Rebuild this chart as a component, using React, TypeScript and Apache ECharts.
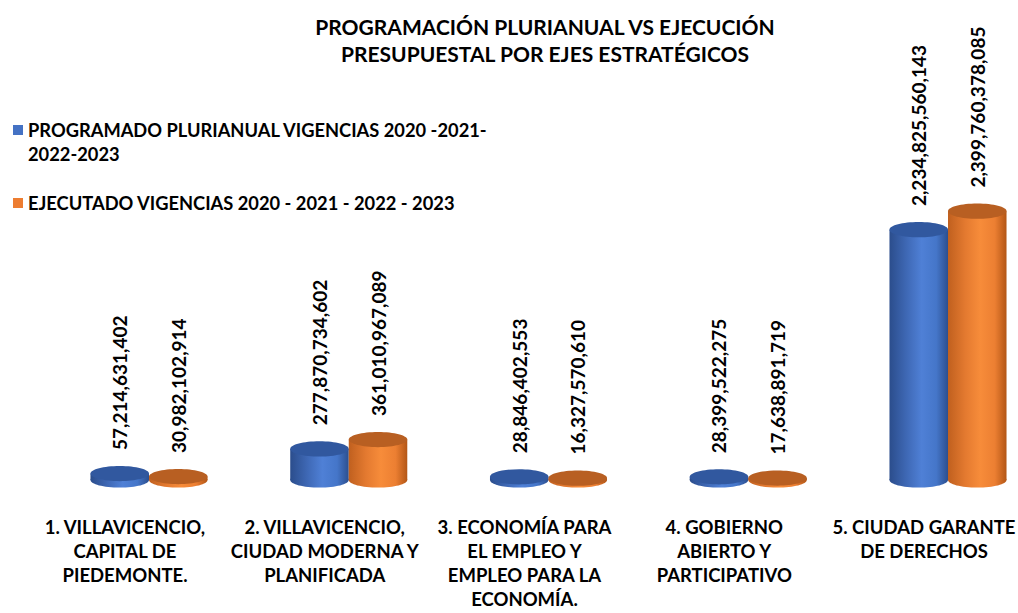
import React, { useEffect, useRef } from "react";
import * as echarts from "echarts";

const categories = [
  "1. VILLAVICENCIO,\nCAPITAL DE\nPIEDEMONTE.",
  "2. VILLAVICENCIO,\nCIUDAD MODERNA Y\nPLANIFICADA",
  "3. ECONOMÍA PARA\nEL EMPLEO Y\nEMPLEO PARA LA\nECONOMÍA.",
  "4. GOBIERNO\nABIERTO Y\nPARTICIPATIVO",
  "5. CIUDAD GARANTE\nDE DERECHOS",
];
const programado = [57214631402, 277870734602, 28846402553, 28399522275, 2234825560143];
const ejecutado = [30982102914, 361010967089, 16327570610, 17638891719, 2399760378085];
const seriesNames = [
  "PROGRAMADO PLURIANUAL VIGENCIAS 2020 -2021-2022-2023",
  "EJECUTADO VIGENCIAS 2020 - 2021 - 2022 - 2023",
];
const titleText = "PROGRAMACIÓN PLURIANUAL VS EJECUCIÓN\nPRESUPUESTAL POR EJES ESTRATÉGICOS";

const FONT = "Lato";

const palettes = [
  { base: "#4472c4", top: "#31589f", stops: ["#2b4d8c", "#3f69b6", "#4f80d6", "#4576c9", "#2c4f8f"] },
  { base: "#ed7d31", top: "#b85f22", stops: ["#c0601f", "#e47a30", "#f78c3a", "#ec7f32", "#b35616"] },
];

function makeRender(si: number) {
  return (params: any, api: any) => {
    const idx = api.value(0);
    const val = api.value(1);
    const top = api.coord([idx, val]);
    const base = api.coord([idx, 0]);
    const band = api.size([1, 0])[0];
    const w = band * 0.293;
    const cx = top[0] + (si === 0 ? -w / 2 : w / 2);
    const ry = w * 0.13;
    const p = palettes[si];
    const grad = new echarts.graphic.LinearGradient(0, 0, 1, 0, [
      { offset: 0, color: p.stops[0] },
      { offset: 0.3, color: p.stops[1] },
      { offset: 0.55, color: p.stops[2] },
      { offset: 0.8, color: p.stops[3] },
      { offset: 1, color: p.stops[4] },
    ]);
    const label = Number(val).toLocaleString("en-US");
    return {
      type: "group",
      children: [
        { type: "ellipse", shape: { cx, cy: base[1], rx: w / 2, ry }, style: { fill: grad } },
        { type: "rect", shape: { x: cx - w / 2, y: top[1], width: w, height: base[1] - top[1] }, style: { fill: grad } },
        { type: "ellipse", shape: { cx, cy: top[1], rx: w / 2, ry }, style: { fill: p.top } },
        {
          type: "text",
          x: cx,
          y: top[1] - ry - 16,
          rotation: Math.PI / 2,
          style: {
            text: label,
            align: "left",
            verticalAlign: "middle",
            fill: "#000",
            font: `bold 19px ${FONT}`,
          },
        },
      ],
    };
  };
}

const iconTop = "path://M0,0h10v10h-10Z M0,33.99h0.01v0.01h-0.01Z";
const iconMid = "path://M0,12h10v10h-10Z M0,0h0.01v0.01h-0.01Z M0,33.99h0.01v0.01h-0.01Z";

export default function App() {
  const ref = useRef<HTMLDivElement>(null);
  useEffect(() => {
    const chart = echarts.init(ref.current!, null, { renderer: "svg" });
    chart.setOption({
      animation: false,
      backgroundColor: "#ffffff",
      title: {
        text: titleText,
        left: 545,
        top: 13,
        padding: 0,
        textAlign: "center",
        textStyle: { fontFamily: FONT, fontWeight: "bold", fontSize: 21, lineHeight: 27, color: "#000" },
      },
      legend: {
        orient: "vertical",
        left: 13,
        top: 118,
        padding: 0,
        itemWidth: 10,
        itemHeight: 34,
        itemGap: 20,
        formatter: (n: string) => (n === seriesNames[0] ? "PROGRAMADO PLURIANUAL VIGENCIAS 2020 -2021-\n2022-2023" : n),
        textStyle: { fontFamily: FONT, fontWeight: "bold", fontSize: 18.3, color: "#000", lineHeight: 24 },
        data: [
          { name: seriesNames[0], icon: iconTop },
          { name: seriesNames[1], icon: iconMid },
        ],
      },
      grid: { left: 149, right: 70, top: 144, bottom: 133, outerBoundsMode: "none" },
      xAxis: {
        type: "category",
        data: categories,
        boundaryGap: false,
        axisLine: { show: false },
        axisTick: { show: false },
        axisLabel: {
          interval: 0,
          margin: 35,
          padding: [0, 48, 0, 0],
          fontFamily: FONT,
          fontWeight: "bold",
          fontSize: 18.5,
          lineHeight: 24,
          color: "#000",
          align: "center",
          hideOverlap: false,
        },
      },
      yAxis: {
        type: "value",
        min: 0,
        max: 3000000000000,
        show: false,
        splitLine: { show: false },
      },
      series: [
        {
          type: "custom",
          name: seriesNames[0],
          itemStyle: { color: palettes[0].base },
          renderItem: makeRender(0),
          data: programado.map((v, i) => [i, v]),
          encode: { x: 0, y: 1 },
        },
        {
          type: "custom",
          name: seriesNames[1],
          itemStyle: { color: palettes[1].base },
          renderItem: makeRender(1),
          data: ejecutado.map((v, i) => [i, v]),
          encode: { x: 0, y: 1 },
        },
      ],
    });
    return () => chart.dispose();
  }, []);
  return <div ref={ref} style={{ position: "fixed", left: 0, top: 0, width: 1018, height: 613 }} />;
}
